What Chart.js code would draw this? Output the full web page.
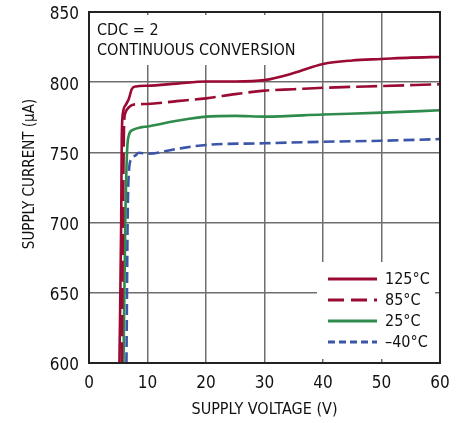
<!DOCTYPE html>
<html>
<head>
<meta charset="utf-8">
<script src="https://cdn.jsdelivr.net/npm/chart.js@4.4.1/dist/chart.umd.min.js"></script>
<style>
  html, body { margin: 0; padding: 0; background: #fff; }
  #wrap { width: 469px; height: 423px; }
</style>
</head>
<body>
<div id="wrap"><canvas id="chart"></canvas></div>
<script>
const FONT = "'Liberation Sans Narrow', 'DejaVu Sans Condensed', 'Liberation Sans', sans-serif";

const xTicks = [0, 10, 20, 30, 40, 50, 60];
const yTicks = [600, 650, 700, 750, 800, 850];
const labels = ['125°C', '85°C', '25°C', '–40°C'];
const noteLines = ['CDC = 2', 'CONTINUOUS CONVERSION'];
const yTitle = 'SUPPLY CURRENT (µA)';

// supply voltage (V) / supply current (uA)
const v125 = [5.2, 5.5, 5.6, 5.8, 6.3, 6.8, 7.3, 8, 10, 15, 20, 25, 30, 35, 40, 45, 50, 55, 60];
const i125 = [600, 700, 760, 778, 784, 788, 795, 797, 797.5, 799, 800.5, 800.5, 801.5, 806.5, 813, 815.5, 816.5, 817.5, 818];
const v85 = [5.6, 5.8, 6.0, 6.2, 6.8, 7.5, 10, 15, 20, 25, 30, 35, 40, 50, 60];
const i85 = [600, 700, 770, 778, 782, 784, 784.5, 786.5, 788.5, 791.5, 794, 795, 796, 797.3, 798.5];
const v25 = [5.9, 6.2, 6.5, 6.8, 7.5, 9, 10, 15, 20, 25, 30, 40, 50, 60];
const i25 = [600, 700, 750, 762, 766, 768, 768.5, 772.5, 775.5, 776, 775.5, 777, 778.3, 780];
const vm40 = [6.4, 6.6, 6.8, 7.2, 8, 8.5, 10, 15, 20, 30, 40, 50, 60];
const im40 = [600, 700, 735, 745, 748, 749.8, 749, 752.5, 755.3, 756.5, 757.6, 758.3, 759.5];

function pts(xs, ys) {
  return xs.map((x, i) => ({ x: x, y: ys[i] }));
}

const RED = '#9b0a32';
const GREEN = '#2e8b4c';
const BLUE = '#3b55a8';

function series(label, data, color, dash, keyDash) {
  return {
    label: label,
    data: data,
    borderColor: color,
    backgroundColor: color,
    borderWidth: 2.6,
    borderDash: dash,
    keyDash: keyDash,
    pointRadius: 0,
    tension: 0.35,
    cubicInterpolationMode: 'monotone',
    fill: false
  };
}

// box around plot, note text, y title and the legend inside the plot area
const decor = {
  id: 'decor',
  afterDatasetsDraw(chart) {
    const { ctx, chartArea: a } = chart;
    ctx.save();
    // legend box
    ctx.fillStyle = '#fff';
    ctx.fillRect(317, 262, 118, 97);
    chart.data.datasets.forEach((ds, i) => {
      const y = 279 + i * 21;
      ctx.beginPath();
      ctx.strokeStyle = ds.borderColor;
      ctx.lineWidth = 3;
      ctx.setLineDash(ds.keyDash || []);
      ctx.moveTo(328, y);
      ctx.lineTo(377, y);
      ctx.stroke();
      ctx.setLineDash([]);
      ctx.fillStyle = '#111';
      ctx.font = '16px ' + FONT;
      ctx.textBaseline = 'middle';
      ctx.textAlign = 'left';
      ctx.fillText(ds.label, 385, y + 1);
    });
    // note
    ctx.fillStyle = '#fff';
    ctx.fillRect(a.left + 3, a.top + 3, 222, 50);
    ctx.fillStyle = '#111';
    ctx.font = '16px ' + FONT;
    ctx.textAlign = 'left';
    ctx.textBaseline = 'middle';
    noteLines.forEach((t, i) => ctx.fillText(t, a.left + 8, a.top + 19 + i * 20));
    // y title
    ctx.translate(30, 174);
    ctx.rotate(-Math.PI / 2);
    ctx.textAlign = 'center';
    ctx.font = '15px ' + FONT;
    ctx.fillText(yTitle, 0, 0);
    ctx.setTransform(1, 0, 0, 1, 0, 0);
    ctx.restore();
    ctx.save();
    // frame
    ctx.strokeStyle = '#222';
    ctx.lineWidth = 2;
    ctx.strokeRect(a.left, a.top, a.right - a.left, a.bottom - a.top);
    ctx.restore();
  }
};

new Chart(document.getElementById('chart'), {
  type: 'line',
  data: {
    datasets: [
      series(labels[0], pts(v125, i125), RED, [], []),
      series(labels[1], pts(v85, i85), RED, [21, 6], [16, 7]),
      series(labels[2], pts(v25, i25), GREEN, [], []),
      series(labels[3], pts(vm40, im40), BLUE, [11, 5], [7, 4])
    ]
  },
  options: {
    responsive: true,
    maintainAspectRatio: false,
    animation: false,
    devicePixelRatio: 1,
    layout: { padding: { top: 12, right: 29, bottom: 0, left: 0 } },
    plugins: { legend: { display: false }, tooltip: { enabled: false } },
    scales: {
      x: {
        type: 'linear',
        min: 0,
        max: 60,
        afterBuildTicks(axis) { axis.ticks = xTicks.map(v => ({ value: v })); },
        grid: { color: '#6e6e6e', lineWidth: 1.5, drawTicks: false },
        border: { display: false },
        ticks: { color: '#111', font: { family: FONT, size: 17 }, padding: 10, maxRotation: 0 },
        title: { display: true, text: 'SUPPLY VOLTAGE (V)', color: '#111', font: { family: FONT, size: 16 }, padding: { top: 6, bottom: 4 } },
        afterFit(axis) { axis.height = 60; }
      },
      y: {
        type: 'linear',
        min: 600,
        max: 850,
        afterBuildTicks(axis) { axis.ticks = yTicks.map(v => ({ value: v })); },
        grid: { color: '#6e6e6e', lineWidth: 1.5, drawTicks: false },
        border: { display: false },
        ticks: { color: '#111', font: { family: FONT, size: 17, lineHeight: 0.2 }, padding: 10, labelOffset: 3 },
        title: { display: false },
        afterFit(axis) { axis.width = 89; }
      }
    }
  },
  plugins: [decor]
});
</script>
</body>
</html>
